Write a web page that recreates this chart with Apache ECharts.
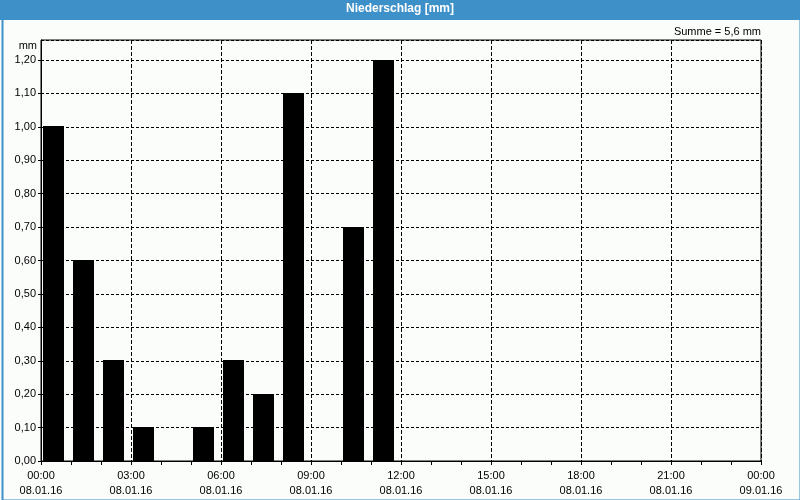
<!DOCTYPE html>
<html>
<head>
<meta charset="utf-8">
<script src="https://cdn.jsdelivr.net/npm/echarts@6/dist/echarts.min.js"></script>
<style>
html,body{margin:0;padding:0;background:#fbfdfb;}
#c{width:800px;height:500px;}
</style>
</head>
<body>
<div id="c"></div>
<script>
// Data: hourly precipitation for 08.01.16 (hour of period start, mm)
var hours = [0, 1, 2, 3, 4, 5, 6, 7, 8, 9, 10, 11];
var precip = [1.0, 0.6, 0.3, 0.1, 0, 0.1, 0.3, 0.2, 1.1, 0, 0.7, 1.2];
var xTickLabels = ['00:00\n08.01.16', '03:00\n08.01.16', '06:00\n08.01.16', '09:00\n08.01.16', '12:00\n08.01.16', '15:00\n08.01.16', '18:00\n08.01.16', '21:00\n08.01.16', '00:00\n09.01.16'];
var yTickLabels = ['0,00', '0,10', '0,20', '0,30', '0,40', '0,50', '0,60', '0,70', '0,80', '0,90', '1,00', '1,10', '1,20'];
var titleText = 'Niederschlag [mm]';
var unit = 'mm';

var total = precip.reduce(function (a, b) { return a + b; }, 0);
var sumText = 'Summe = ' + total.toFixed(1).replace('.', ',') + ' mm';

var FONT = 'Liberation Sans';
var BLUE = '#3d90c8';

var chart = echarts.init(document.getElementById('c'), null, {renderer: 'canvas'});
var data = hours.map(function (h, i) { return [h, precip[i]]; });

chart.setOption({
  backgroundColor: '#fbfdfb',
  animation: false,
  graphic: [
    {type: 'rect', left: 0, top: 0, shape: {width: 800, height: 20}, style: {fill: BLUE}, z: -1},
    {type: 'rect', left: 0, top: 0, shape: {x: 0.75, y: 0.75, width: 798, height: 498}, style: {fill: null, stroke: BLUE, lineWidth: 2}, z: -1}
  ],
  title: [
    {text: titleText, left: 'center', top: 3, padding: 0,
     textStyle: {color: '#ffffff', fontFamily: FONT, fontSize: 12, fontWeight: 'bold'}},
    {text: sumText, right: 39, top: 26, padding: 0,
     textStyle: {color: '#000000', fontFamily: FONT, fontSize: 11, fontWeight: 'normal'}}
  ],
  grid: {left: 41, right: 39, top: 40, bottom: 39, show: true, borderColor: '#000', borderWidth: 1, backgroundColor: 'transparent'},
  xAxis: {
    type: 'value', min: 0, max: 24, interval: 3,
    axisLine: {show: true, lineStyle: {color: '#000', width: 1}},
    axisTick: {show: true, length: 4, lineStyle: {color: '#000'}},
    minorTick: {show: true, splitNumber: 3, length: 4, lineStyle: {color: '#000'}},
    splitLine: {show: true, lineStyle: {color: '#000', type: [4, 2], width: 1}},
    axisLabel: {
      color: '#000', fontFamily: FONT, fontSize: 11, lineHeight: 15, margin: 7,
      formatter: function (v) { return xTickLabels[Math.round(v / 3)] || ''; }
    }
  },
  yAxis: {
    type: 'value', min: 0, max: 1.26, interval: 0.1,
    name: unit, nameLocation: 'end', nameGap: -6,
    nameTextStyle: {color: '#000', fontFamily: FONT, fontSize: 11, align: 'right', verticalAlign: 'middle', padding: [0, 4, 0, 0]},
    axisLine: {show: true, lineStyle: {color: '#000', width: 1}},
    axisTick: {show: true, length: 3, lineStyle: {color: '#000'}},
    splitLine: {show: true, lineStyle: {color: '#000', type: [3, 2], width: 1}},
    axisLabel: {
      color: '#000', fontFamily: FONT, fontSize: 11, margin: 5, showMaxLabel: false,
      formatter: function (v) {
        var k = Math.round(v * 10);
        if (Math.abs(v * 10 - k) > 1e-6) return '';
        return yTickLabels[k] || '';
      }
    }
  },
  series: [{
    type: 'custom',
    z: 5,
    data: data,
    renderItem: function (params, api) {
      var h = api.value(0), v = api.value(1);
      if (!v) return null;
      var p0 = api.coord([h, 0]);
      var p1 = api.coord([h + 1, v]);
      var w = p1[0] - p0[0];
      var x = p0[0] + w * 0.07;
      var bw = w * 0.7;
      var top = Math.floor(p1[1]);
      return {
        type: 'rect',
        shape: {x: Math.round(x), y: top, width: Math.round(bw), height: Math.round(p0[1]) - top},
        style: {fill: '#000'}
      };
    }
  }]
});
</script>
</body>
</html>
